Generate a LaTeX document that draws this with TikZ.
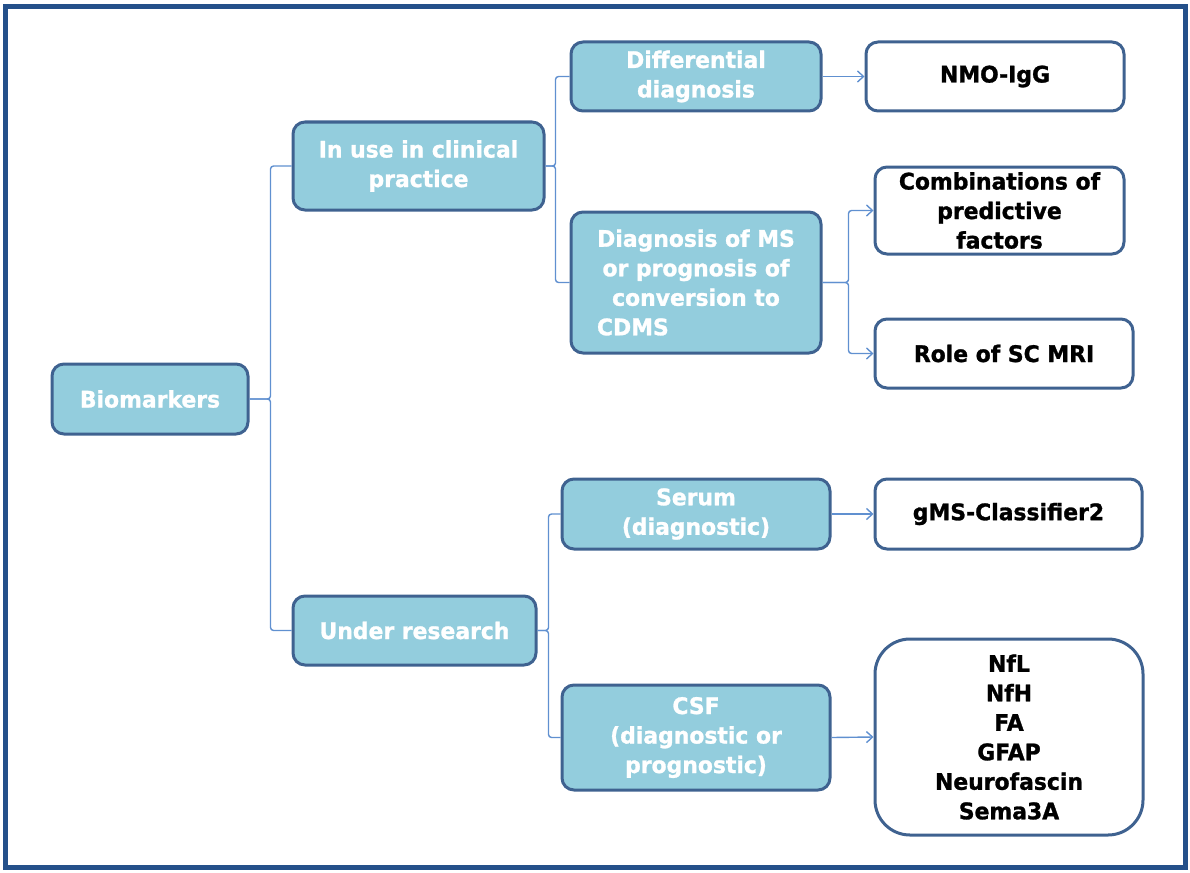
\documentclass[tikz,border=0pt]{standalone}
\usepackage{fontspec}
\setmainfont[FakeStretch=0.96, BoldFeatures={FakeBold=1.2, FakeStretch=0.96}]{DejaVu Sans}
\usetikzlibrary{arrows.meta}
\definecolor{frameblue}{HTML}{24508A}
\definecolor{boxline}{HTML}{3F6290}
\definecolor{boxfill}{HTML}{93CDDD}
\definecolor{linkblue}{HTML}{6090D0}

\begin{document}
\begin{tikzpicture}[x=1pt,y=-1pt,
  box/.style={draw=boxline, line width=3pt, rounded corners=12pt, align=center,
              font=\bfseries\fontsize{22.8}{29.5}\selectfont, inner sep=0pt},
  bluebox/.style={box, fill=boxfill, text=white},
  whitebox/.style={box, fill=white, text=black},
  link/.style={draw=linkblue, line width=1.4pt, rounded corners=3pt},
  arrow/.style={link, -{Straight Barb[length=6pt,width=11pt]}}
]
\useasboundingbox (0,0) rectangle (1190,872);
\draw[frameblue, line width=5pt] (5.5,7) rectangle (1185,867);

% root and first level
\node[bluebox, minimum width=196pt, minimum height=70pt] (bio) at (150,399) {Biomarkers};
\node[bluebox, minimum width=251pt, minimum height=88pt] (use) at (418.5,166) {In use in clinical\\practice};
\node[bluebox, minimum width=243pt, minimum height=69pt] (res) at (414.5,630.5) {Under research};

% second level
\node[bluebox, minimum width=250pt, minimum height=69pt] (diff) at (696,76.5) {Differential\\diagnosis};
\node[bluebox, minimum width=250pt, minimum height=141pt] (diag) at (696,282.5)
  {Diagnosis of MS\\or prognosis of\\conversion to\\\makebox[198pt][l]{CDMS}};
\node[bluebox, minimum width=268pt, minimum height=70pt] (serum) at (696,514) {Serum\\(diagnostic)};
\node[bluebox, minimum width=268pt, minimum height=105pt] (csf) at (696,737.5) {CSF\\(diagnostic or\\prognostic)};

% leaves
\node[whitebox, minimum width=258pt, minimum height=69pt] (nmo) at (995,76.5) {NMO-IgG};
\node[whitebox, minimum width=249pt, minimum height=87pt] (comb) at (999.5,210.5) {Combinations of\\predictive\\factors};
\node[whitebox, minimum width=258pt, minimum height=69pt] (role) at (1004,353.5) {Role of SC MRI};
\node[whitebox, minimum width=267pt, minimum height=70pt] (gms) at (1008.5,514) {gMS-Classifier2};
\node[whitebox, rounded corners=35pt, minimum width=268pt, minimum height=196pt] (nfl) at (1009,737)
  {NfL\\NfH\\FA\\GFAP\\Neurofascin\\Sema3A};

% tree connectors
\draw[link] (bio.east) -- ++(21,0) |- (use.west);
\draw[link] (bio.east) -- ++(21,0) |- (res.west);
\draw[link] (use.east) -- ++(10,0) |- (diff.west);
\draw[link] (use.east) -- ++(10,0) |- (diag.west);
\draw[link] (res.east) -- ++(11,0) |- (serum.west);
\draw[link] (res.east) -- ++(11,0) |- (csf.west);

% arrows to leaves
\draw[arrow] (diff.east) -- (nmo.west);
\draw[arrow] (diag.east) -- ++(26,0) |- (comb.west);
\draw[arrow] (diag.east) -- ++(26,0) |- (role.west);
\draw[arrow] (serum.east) -- (gms.west);
\draw[arrow] (csf.east) -- (nfl.west);
\end{tikzpicture}
\end{document}
